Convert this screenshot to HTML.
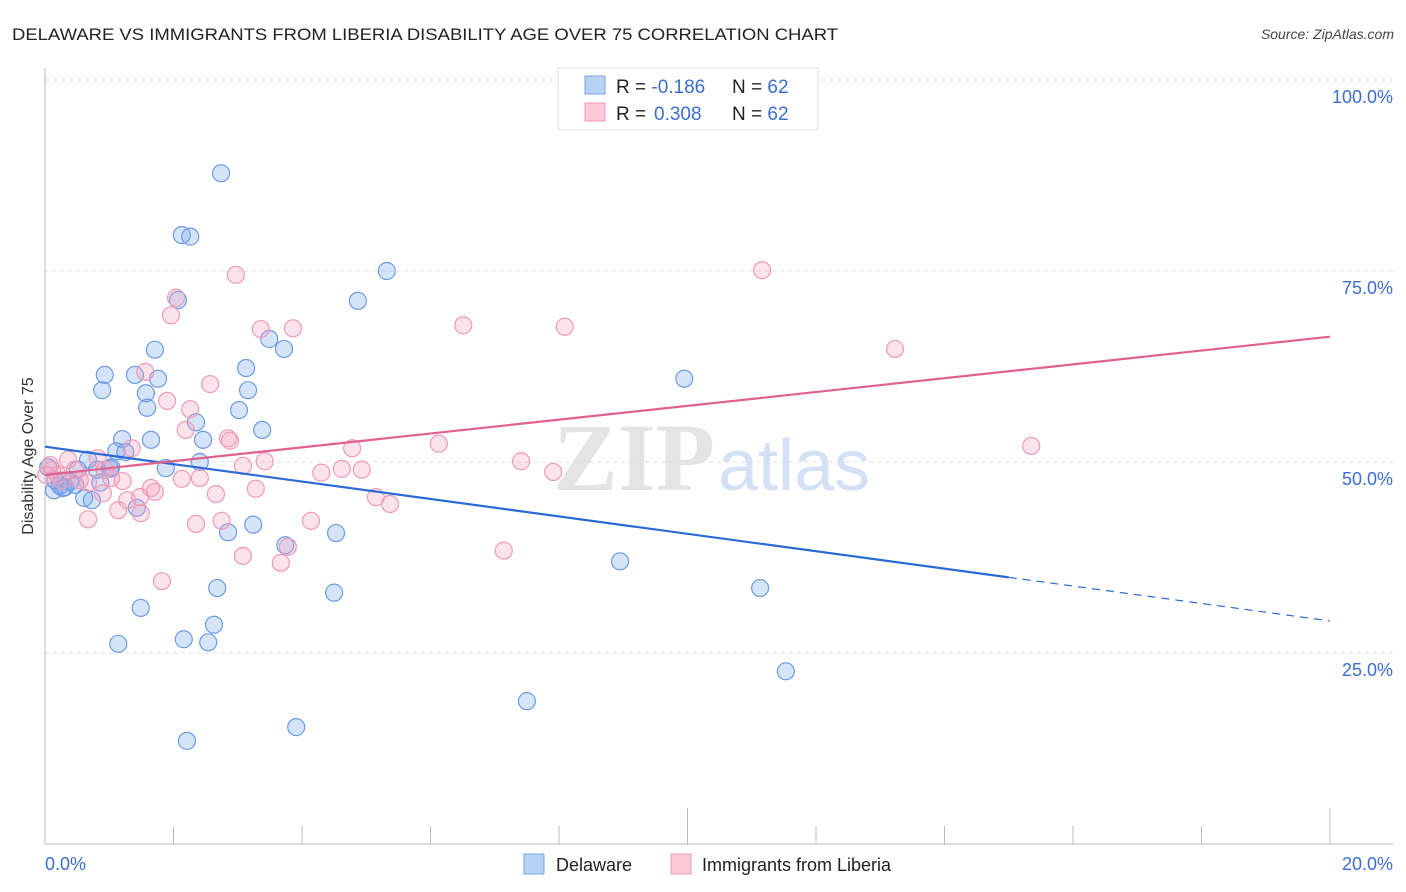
<!DOCTYPE html>
<html><head><meta charset="utf-8"><style>
html,body{margin:0;padding:0;background:#fff;}
svg{display:block;font-family:"Liberation Sans",sans-serif;}
</style></head><body>
<svg id="chart" width="1406" height="892" viewBox="0 0 1406 892">
<text x="12" y="40" font-size="17" fill="#222" textLength="826" lengthAdjust="spacingAndGlyphs">DELAWARE VS IMMIGRANTS FROM LIBERIA DISABILITY AGE OVER 75 CORRELATION CHART</text>
<text x="1394" y="39" font-size="14" fill="#444" font-style="italic" text-anchor="end">Source: ZipAtlas.com</text>
<g>
<text x="553" y="490" font-size="96" fill="#e4e4e4" font-family="Liberation Serif, serif" font-weight="bold" textLength="162" lengthAdjust="spacingAndGlyphs">ZIP</text>
<text x="718" y="490" font-size="72" fill="#d4e0f4">atlas</text>
</g>
<g id="grid"></g>
<g id="axes"></g>
<g id="pts"></g>
<g id="lines"></g>
<text transform="translate(33,456) rotate(-90)" font-size="16" fill="#333" text-anchor="middle">Disability Age Over 75</text>
<g>
<rect x="558" y="68" width="260" height="62" fill="#fff" stroke="#ddd"/>
<rect x="585" y="76" width="20" height="18" fill="#b8d2f6" stroke="#7aa6e6"/>
<rect x="585" y="103" width="20" height="18" fill="#fcc9d8" stroke="#ef9ab6"/>
<text x="616" y="93" font-size="19" fill="#222">R = <tspan fill="#3a6fd0">-0.186</tspan><tspan x="732">N = </tspan><tspan fill="#3a6fd0">62</tspan></text>
<text x="616" y="120" font-size="19" fill="#222">R = <tspan x="654" fill="#3a6fd0">0.308</tspan><tspan x="732">N = </tspan><tspan fill="#3a6fd0">62</tspan></text>
</g>
<g>
<rect x="524" y="854" width="20" height="20" fill="#b8d2f6" stroke="#7aa6e6"/>
<text x="556" y="871" font-size="18" fill="#222">Delaware</text>
<rect x="671" y="854" width="20" height="20" fill="#fcc9d8" stroke="#ef9ab6"/>
<text x="702" y="871" font-size="18" fill="#222">Immigrants from Liberia</text>
</g>
</svg>
<script>
const xTicks=[0,2,4,6,8,10,12,14,16,18,20];
const yTicks=[25,50,75,100];
const yTickLabels=["25.0%","50.0%","75.0%","100.0%"];
const blueX=[2.74,2.13,2.26,5.32,4.87,2.07,1.71,3.49,3.72,0.93,1.40,1.76,3.13,0.89,1.57,3.16,1.59,3.02,2.35,3.38,1.20,1.65,2.46,1.11,1.25,0.67,2.41,1.88,1.01,0.51,0.81,0.14,0.28,0.39,0.61,0.73,0.86,1.43,2.85,3.24,4.53,3.74,2.68,4.50,1.49,2.63,2.16,2.54,1.14,8.95,9.95,11.13,11.53,7.50,2.21,3.91,0.16,0.23,0.31,0.05,0.47,1.03];
const blueY=[87.8,79.7,79.5,75.0,71.1,71.2,64.7,66.1,64.8,61.4,61.4,60.9,62.3,59.4,59.0,59.4,57.1,56.8,55.2,54.2,53.0,52.9,52.9,51.4,51.3,50.3,50.0,49.2,49.1,49.0,49.0,46.3,46.6,47.4,45.3,45.0,47.3,44.0,40.8,41.8,40.7,39.1,33.5,32.9,30.9,28.7,26.8,26.4,26.2,37.0,60.9,33.5,22.6,18.7,13.5,15.3,47.6,46.9,46.7,49.3,47.0,49.3];
const pinkX=[11.16,2.97,2.04,1.96,6.51,8.09,3.36,3.86,13.23,1.56,2.57,1.90,2.26,2.19,2.85,2.88,1.35,4.78,6.13,15.35,3.42,3.08,7.41,4.62,4.93,7.91,4.30,1.03,1.21,2.13,2.41,0.82,0.36,0.08,0.20,0.54,0.67,3.28,1.65,1.71,0.90,2.66,5.15,5.37,1.28,1.48,1.14,1.49,0.67,2.35,2.75,4.14,3.08,3.67,3.78,7.14,1.82,0.02,0.11,0.26,0.47,0.93];
const pinkY=[75.1,74.5,71.5,69.2,67.9,67.7,67.4,67.5,64.8,61.8,60.2,58.0,56.9,54.2,53.1,52.8,51.8,51.8,52.4,52.1,50.1,49.5,50.1,49.1,49.0,48.7,48.6,47.9,47.5,47.8,47.9,50.5,50.3,49.6,48.3,47.6,47.3,46.5,46.6,46.1,45.9,45.8,45.4,44.5,45.0,45.4,43.7,43.3,42.5,41.9,42.3,42.3,37.7,36.8,38.9,38.4,34.4,48.3,49.0,47.6,49.0,49.0];
const blueTrend=[52.0,29.2];
const blueSolidEnd=15.0;
const pinkTrend=[48.3,66.4];

const NS="http://www.w3.org/2000/svg";
const X0=45,X1=1330,Y0=844,YT=80;
const sx=v=>X0+(v/20)*(X1-X0);
const sy=v=>Y0-(v/100)*(Y0-YT);
function mk(tag,attrs,parent){const e=document.createElementNS(NS,tag);for(const k in attrs)e.setAttribute(k,attrs[k]);parent.appendChild(e);return e;}
const grid=document.getElementById('grid'),axes=document.getElementById('axes'),pts=document.getElementById('pts'),lines=document.getElementById('lines');
yTicks.forEach((t,i)=>{
  const l=mk('line',{x1:X0,x2:1393,y1:sy(t),y2:sy(t),stroke:'#dcdcdc','stroke-dasharray':'4,4'},grid);
  
  
  const tx=mk('text',{x:1393,y:sy(t)+23,'font-size':18,fill:'#3a6fd0','text-anchor':'end'},axes);
  tx.textContent=yTickLabels[i];
  
  
});
mk('line',{x1:X0,x2:X0,y1:68,y2:Y0,stroke:'#bbb'},axes);
mk('line',{x1:X0,x2:1393,y1:Y0,y2:Y0,stroke:'#bbb'},axes);
xTicks.forEach(t=>{
  const big=(t===10||t===20);
  const l=mk('line',{x1:sx(t),x2:sx(t),y1:big?808:826,y2:Y0,stroke:'#bbb'},axes);
  
  
});
const xl0=mk('text',{x:45,y:870,'font-size':18,fill:'#3a6fd0'},axes);xl0.textContent='0.0%';


const xl1=mk('text',{x:1393,y:870,'font-size':18,fill:'#3a6fd0','text-anchor':'end'},axes);xl1.textContent='20.0%';


blueX.forEach((v,i)=>{
  const c=mk('circle',{cx:sx(v),cy:sy(blueY[i]),r:8.5,fill:'rgba(120,165,235,0.3)',stroke:'#6c9be6','stroke-width':1.2},pts);
  
  
});
pinkX.forEach((v,i)=>{
  const c=mk('circle',{cx:sx(v),cy:sy(pinkY[i]),r:8.5,fill:'rgba(245,160,190,0.3)',stroke:'#ec9bb7','stroke-width':1.2},pts);
  
  
});
const by=x=>blueTrend[0]+(blueTrend[1]-blueTrend[0])*x/20;
const bl=mk('line',{x1:sx(0),y1:sy(by(0)),x2:sx(blueSolidEnd),y2:sy(by(blueSolidEnd)),stroke:'#2a6ad6','stroke-width':2.2},lines);


const bd=mk('line',{x1:sx(blueSolidEnd),y1:sy(by(blueSolidEnd)),x2:sx(20),y2:sy(by(20)),stroke:'#2a6ad6','stroke-width':1.2,'stroke-dasharray':'8,6'},lines);


const pl=mk('line',{x1:sx(0),y1:sy(pinkTrend[0]),x2:sx(20),y2:sy(pinkTrend[1]),stroke:'#e0608e','stroke-width':2.2},lines);


</script>
</body></html>
